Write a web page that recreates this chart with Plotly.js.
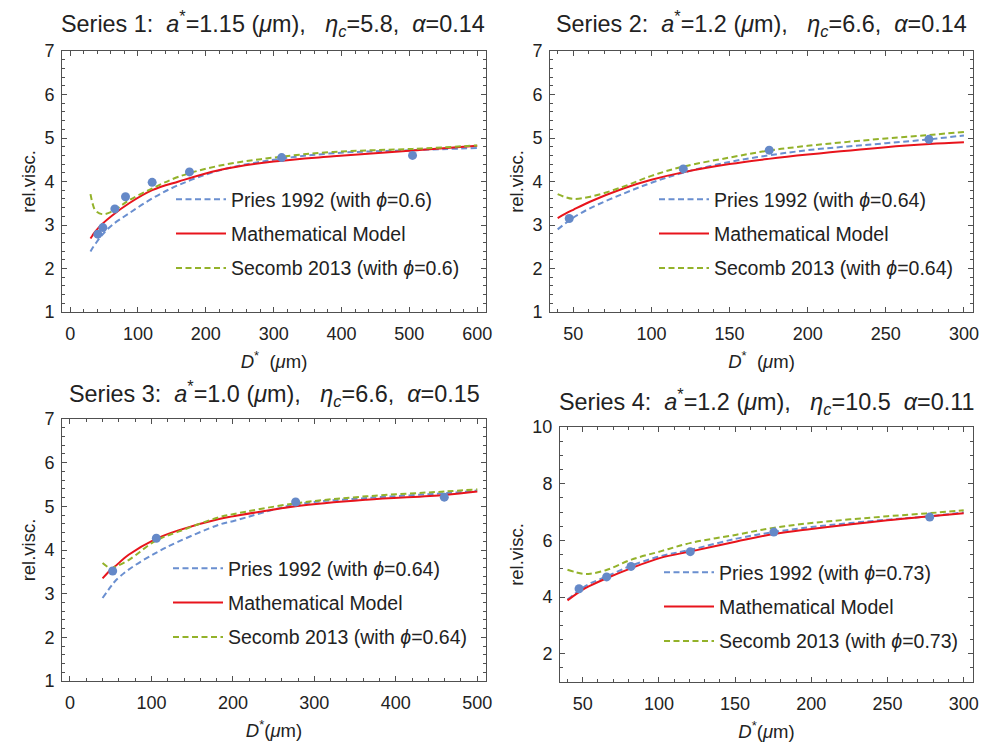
<!DOCTYPE html>
<html>
<head>
<meta charset="utf-8">
<script src="https://cdn.plot.ly/plotly-3.0.1.min.js"></script>
<style>html,body{margin:0;padding:0;background:#fff;}#chart{width:986px;height:742px;}</style>
</head>
<body>
<div id="chart"></div>
<script>
// ---------- Data ----------
// Series 1
const s1DataD = [40.8, 48.2, 65.9, 81.6, 120.9, 175.9, 311.8, 504.7];
const s1DataVisc = [2.79, 2.94, 3.37, 3.65, 3.98, 4.22, 4.55, 4.60];
const s1CurveD = [30, 33, 37, 47, 62, 87, 121, 160, 219, 300, 388, 505, 600];
const s1Pries = [2.39, 2.47, 2.56, 2.77, 3.00, 3.27, 3.61, 3.92, 4.25, 4.50, 4.65, 4.72, 4.77];
const s1Model = [2.69, 2.76, 2.85, 3.02, 3.22, 3.50, 3.80, 4.00, 4.26, 4.46, 4.58, 4.71, 4.82];
const s1Secomb = [3.71, 3.50, 3.34, 3.25, 3.31, 3.57, 3.84, 4.11, 4.36, 4.55, 4.68, 4.75, 4.83];

// Series 2
const s2DataD = [47.4, 120.4, 175.4, 277.6];
const s2DataVisc = [3.15, 4.29, 4.72, 4.97];
const s2CurveD = [40, 45, 50, 61, 82, 100, 120, 150, 175, 200, 250, 278, 300];
const s2Pries = [2.90, 3.04, 3.17, 3.39, 3.72, 3.97, 4.20, 4.45, 4.60, 4.72, 4.88, 4.97, 5.06];
const s2Model = [3.16, 3.26, 3.35, 3.54, 3.84, 4.04, 4.21, 4.40, 4.52, 4.62, 4.79, 4.86, 4.90];
const s2Secomb = [3.71, 3.64, 3.60, 3.65, 3.88, 4.13, 4.34, 4.55, 4.71, 4.82, 4.99, 5.07, 5.14];

// Series 3
const s3DataD = [52.4, 106.0, 277.0, 459.5];
const s3DataVisc = [3.52, 4.27, 5.10, 5.21];
const s3CurveD = [40, 50, 55, 72, 105, 133, 183, 200, 277, 364, 460, 500];
const s3Pries = [2.90, 3.16, 3.28, 3.55, 3.93, 4.19, 4.58, 4.66, 5.04, 5.19, 5.30, 5.36];
const s3Model = [3.35, 3.55, 3.62, 3.89, 4.25, 4.45, 4.71, 4.77, 5.00, 5.15, 5.26, 5.34];
const s3Secomb = [3.70, 3.58, 3.61, 3.77, 4.21, 4.42, 4.75, 4.82, 5.07, 5.23, 5.34, 5.39];

// Series 4
const s4DataD = [47.6, 65.7, 81.7, 120.6, 175.4, 277.7];
const s4DataVisc = [4.29, 4.71, 5.08, 5.60, 6.29, 6.82];
const s4CurveD = [40, 50, 55, 66, 82, 101, 121, 151, 175, 200, 250, 278, 300];
const s4Pries = [3.91, 4.32, 4.48, 4.73, 5.11, 5.44, 5.67, 6.06, 6.29, 6.47, 6.73, 6.85, 6.99];
const s4Model = [3.88, 4.26, 4.40, 4.67, 5.02, 5.38, 5.61, 5.96, 6.22, 6.40, 6.71, 6.85, 6.96];
const s4Secomb = [4.96, 4.82, 4.82, 4.96, 5.32, 5.61, 5.91, 6.20, 6.44, 6.61, 6.85, 6.96, 7.06];

// Labels
const panelTitles = [
  'Series 1:\u00a0 <i>a</i><sup>*</sup>=1.15 (<i>\u03bc</i>m),\u00a0\u00a0 <i>\u03b7<sub>c</sub></i>=5.8,\u00a0 <i>\u03b1</i>=0.14',
  'Series 2:\u00a0 <i>a</i><sup>*</sup>=1.2 (<i>\u03bc</i>m),\u00a0\u00a0 <i>\u03b7<sub>c</sub></i>=6.6,\u00a0 <i>\u03b1</i>=0.14',
  'Series 3:\u00a0 <i>a</i><sup>*</sup>=1.0 (<i>\u03bc</i>m),\u00a0\u00a0 <i>\u03b7<sub>c</sub></i>=6.6,\u00a0 <i>\u03b1</i>=0.15',
  'Series 4:\u00a0 <i>a</i><sup>*</sup>=1.2 (<i>\u03bc</i>m),\u00a0\u00a0 <i>\u03b7<sub>c</sub></i>=10.5\u00a0 <i>\u03b1</i>=0.11'
];
const phiValues = ['0.6', '0.64', '0.64', '0.73'];
const xTitles = ['<i>D</i><sup>*</sup>\u00a0 (<i>\u03bc</i>m)', '<i>D</i><sup>*</sup>\u00a0 (<i>\u03bc</i>m)', '<i>D</i><sup>*</sup>(<i>\u03bc</i>m)', '<i>D</i><sup>*</sup>(<i>\u03bc</i>m)'];
const yTitle = 'rel.visc.';

// ---------- Styling ----------
const FONT = 'Liberation Sans, Arial, Helvetica, sans-serif';
const C_PTS = '#6589c8';
const C_PRIES = '#6a8fd0';
const C_MODEL = '#e8141c';
const C_SECOMB = '#93b22a';
const FRAME = '#505050';

const panels = [
  {dD: s1DataD, dV: s1DataVisc, cD: s1CurveD, p: s1Pries, m: s1Model, s: s1Secomb},
  {dD: s2DataD, dV: s2DataVisc, cD: s2CurveD, p: s2Pries, m: s2Model, s: s2Secomb},
  {dD: s3DataD, dV: s3DataVisc, cD: s3CurveD, p: s3Pries, m: s3Model, s: s3Secomb},
  {dD: s4DataD, dV: s4DataVisc, cD: s4CurveD, p: s4Pries, m: s4Model, s: s4Secomb}
];

const W = 986, H = 742;
// pixel boxes of each plot frame [left, right, top, bottom]
const boxes = [
  [62, 486, 51, 312],
  [550, 973, 51, 312],
  [62, 486, 419, 681],
  [560, 973, 427, 682]
];
const xRanges = [[-12, 613], [35.1, 305.8], [-9.8, 510.7], [35.1, 306.1]];
const yRanges = [[1, 7], [1, 7], [1, 7], [1, 10]];
const xDticks = [[100, 20], [50, 10], [100, 20], [50, 10]];
const yDticks = [[1, 0.2], [1, 0.2], [1, 0.2], [2, 0.5]];
const titlePos = [[273, 23], [761, 23], [274, 393], [766, 401]];
const legendPos = [[171, 180], [654, 180], [168, 549], [659, 553]];

const traces = [];
const layout = {
  width: W, height: H,
  margin: {l: 0, r: 0, t: 0, b: 0},
  paper_bgcolor: '#fff', plot_bgcolor: '#fff',
  font: {family: FONT, color: '#222'},
  showlegend: true,
  annotations: []
};

panels.forEach((pn, i) => {
  const k = i + 1;
  const xa = 'x' + (k === 1 ? '' : k), ya = 'y' + (k === 1 ? '' : k);
  const legendName = 'legend' + (k === 1 ? '' : k);
  const common = {xaxis: xa, yaxis: ya, legend: legendName, type: 'scatter', hoverinfo: 'skip'};
  traces.push(Object.assign({}, common, {
    x: pn.cD, y: pn.p, mode: 'lines', name: 'Pries 1992 (with <i>\u03d5</i>=' + phiValues[i] + ')',
    legendgroup: 'p' + k, line: {color: C_PRIES, width: 2, dash: '6px,3.5px', shape: 'spline'}
  }));
  traces.push(Object.assign({}, common, {
    x: pn.cD, y: pn.m, mode: 'lines', name: 'Mathematical Model',
    legendgroup: 'm' + k, line: {color: C_MODEL, width: 2, shape: 'spline'}
  }));
  traces.push(Object.assign({}, common, {
    x: pn.cD, y: pn.s, mode: 'lines', name: 'Secomb 2013 (with <i>\u03d5</i>=' + phiValues[i] + ')',
    legendgroup: 's' + k, line: {color: C_SECOMB, width: 2, dash: '6px,3.5px', shape: 'spline'}
  }));
  traces.push(Object.assign({}, common, {
    x: pn.dD, y: pn.dV, mode: 'markers', name: 'data', showlegend: false,
    marker: {color: C_PTS, size: 9}
  }));

  const b = boxes[i];
  const axBase = {
    showline: true, linecolor: FRAME, linewidth: 1, mirror: 'ticks',
    ticks: 'inside', ticklen: 5, tickwidth: 1, tickcolor: FRAME,
    showgrid: false, zeroline: false, fixedrange: true,
    tickfont: {family: FONT, size: 18, color: '#222'}
  };
  layout['xaxis' + (k === 1 ? '' : k)] = Object.assign({}, axBase, {
    domain: [b[0] / W, b[1] / W], anchor: ya, range: xRanges[i],
    dtick: xDticks[i][0], tick0: 0,
    minor: {dtick: xDticks[i][1], tick0: 0, ticks: 'inside', ticklen: 3, tickcolor: FRAME, showgrid: false},
    ticklabelstandoff: 5,
    title: {text: xTitles[i], font: {family: FONT, size: 18.5, color: '#222'}, standoff: 12}
  });
  layout['yaxis' + (k === 1 ? '' : k)] = Object.assign({}, axBase, {
    domain: [1 - b[3] / H, 1 - b[2] / H], anchor: xa, range: yRanges[i],
    dtick: yDticks[i][0], tick0: 0,
    minor: {dtick: yDticks[i][1], tick0: 0, ticks: 'inside', ticklen: 3, tickcolor: FRAME, showgrid: false},
    ticklabelstandoff: 3,
    title: {text: yTitle, font: {family: FONT, size: 18.5, color: '#222'}, standoff: 3}
  });
  layout.annotations.push({
    xref: 'paper', yref: 'paper', x: titlePos[i][0] / W, y: 1 - titlePos[i][1] / H,
    xanchor: 'center', yanchor: 'middle', showarrow: false,
    text: panelTitles[i], font: {family: FONT, size: 23.4, color: '#222'}
  });
  layout[legendName] = {
    x: legendPos[i][0] / W, y: 1 - legendPos[i][1] / H, xanchor: 'left', yanchor: 'top',
    bgcolor: 'rgba(0,0,0,0)', borderwidth: 0, traceorder: 'grouped', tracegroupgap: 6,
    itemwidth: 50, font: {family: FONT, size: 19.5, color: '#222'}
  };
});

Plotly.newPlot('chart', traces, layout, {displayModeBar: false, staticPlot: true});
</script>
</body>
</html>
